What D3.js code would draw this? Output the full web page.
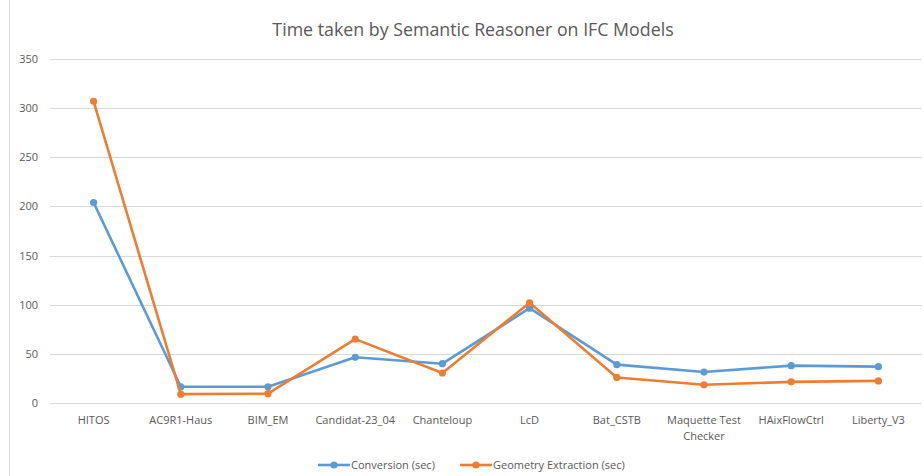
<!DOCTYPE html>
<meta charset="utf-8">
<html>
<head>
<title>Time taken by Semantic Reasoner</title>
<script src="https://d3js.org/d3.v7.min.js"></script>
<style>
  body { margin: 0; background: #fff; }
  text { font-family: "Open Sans", "Noto Sans", sans-serif; fill: #595959; }
</style>
</head>
<body>
<div id="chart"></div>
<script>
// data
var models = ["HITOS", "AC9R1-Haus", "BIM_EM", "Candidat-23_04", "Chanteloup", "LcD", "Bat_CSTB", "Maquette Test|Checker", "HAixFlowCtrl", "Liberty_V3"];
var conversion = [204, 16.5, 16.5, 46.5, 40, 96.5, 39, 31.5, 38, 37];
var geometry = [307, 9, 9.5, 65, 30.5, 102, 26, 18.5, 21.5, 22.5];
var yTicks = [0, 50, 100, 150, 200, 250, 300, 350];
var seriesNames = ["Conversion (sec)", "Geometry Extraction (sec)"];
var seriesColors = ["#5b9bd5", "#ed7d31"];

var W = 924, H = 476;
var svg = d3.select("#chart").append("svg").attr("width", W).attr("height", H);

// chart frame edge on the left
svg.append("line").attr("x1", 9.5).attr("x2", 9.5).attr("y1", 0).attr("y2", H)
   .attr("stroke", "#d9d9d9");

svg.append("text").attr("x", 473).attr("y", 36).attr("text-anchor", "middle")
   .style("font-size", "17.8px").text("Time taken by Semantic Reasoner on IFC Models");

var x = d3.scaleBand().domain(models).range([50, 922]);
var y = d3.scaleLinear().domain([0, 350]).range([403, 59]);

// gridlines
svg.selectAll(".grid").data(yTicks).enter().append("line")
   .attr("x1", 50).attr("x2", 922)
   .attr("y1", function(d) { return Math.round(y(d)) + 0.5; })
   .attr("y2", function(d) { return Math.round(y(d)) + 0.5; })
   .attr("stroke", "#d9d9d9").attr("stroke-width", 1);

// y labels
svg.selectAll(".ylab").data(yTicks).enter().append("text")
   .attr("x", 38).attr("y", function(d) { return y(d) + 4; })
   .attr("text-anchor", "end").style("font-size", "11px")
   .text(function(d) { return d; });

// x labels
var xl = svg.selectAll(".xlab").data(models).enter().append("text")
   .attr("text-anchor", "middle").style("font-size", "11px")
   .attr("transform", function(d) { return "translate(" + (x(d) + x.bandwidth() / 2) + ",424)"; });
xl.selectAll("tspan").data(function(d) { return d.split("|"); }).enter().append("tspan")
   .attr("x", 0).attr("dy", function(d, i) { return i ? 16 : 0; })
   .text(function(d) { return d; });

var line = d3.line()
   .x(function(d, i) { return x(models[i]) + x.bandwidth() / 2; })
   .y(function(d) { return y(d); });

[conversion, geometry].forEach(function(vals, k) {
  svg.append("path").datum(vals).attr("d", line)
     .attr("fill", "none").attr("stroke", seriesColors[k])
     .attr("stroke-width", 2.6).attr("stroke-linejoin", "round");
  svg.selectAll(".pt" + k).data(vals).enter().append("circle")
     .attr("cx", function(d, i) { return x(models[i]) + x.bandwidth() / 2; })
     .attr("cy", function(d) { return y(d); })
     .attr("r", 3.6).attr("fill", seriesColors[k]);
});

// legend
var legendX = [318, 460];
seriesNames.forEach(function(name, k) {
  var g = svg.append("g").attr("transform", "translate(" + legendX[k] + ",465)");
  g.append("line").attr("x1", 0).attr("x2", 32).attr("y1", 0).attr("y2", 0)
   .attr("stroke", seriesColors[k]).attr("stroke-width", 2.6);
  g.append("circle").attr("cx", 16).attr("cy", 0).attr("r", 3.6).attr("fill", seriesColors[k]);
  g.append("text").attr("x", 33).attr("y", 4).style("font-size", "11px").text(name);
});
</script>
</body>
</html>
